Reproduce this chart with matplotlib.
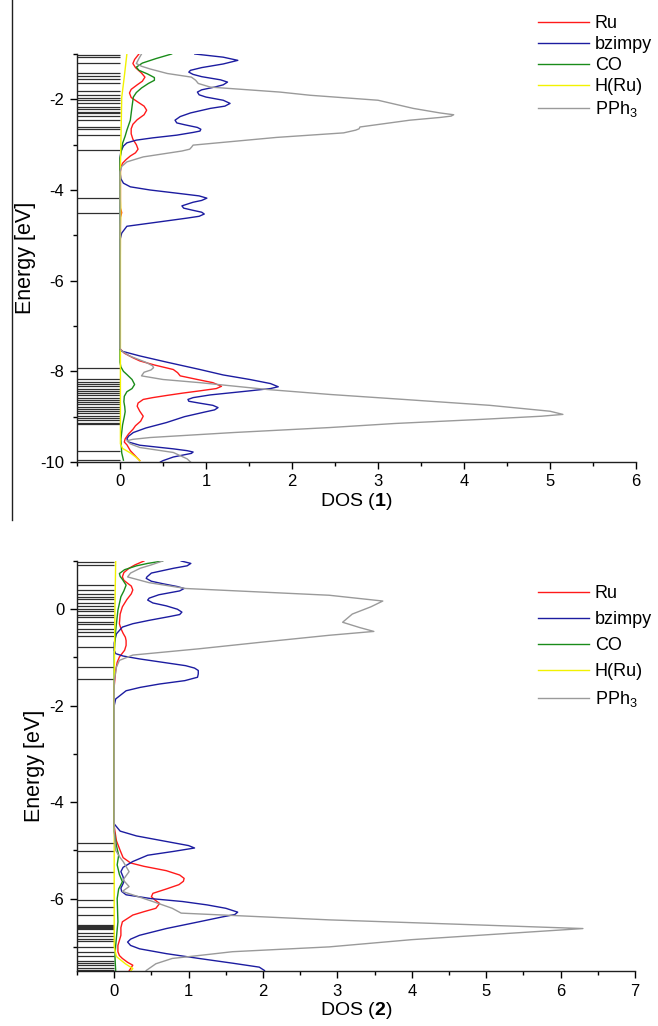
import matplotlib
matplotlib.use("Agg")
import matplotlib.pyplot as plt
from matplotlib.lines import Line2D
from matplotlib.ticker import MultipleLocator

plt.rcParams['font.family'] = ['Liberation Sans', 'DejaVu Sans']
plt.rcParams['mathtext.fontset'] = 'custom'
plt.rcParams['mathtext.rm'] = 'Liberation Sans'
plt.rcParams['mathtext.bf'] = 'Liberation Sans:bold'
plt.rcParams['mathtext.it'] = 'Liberation Sans:italic'
plt.rcParams['axes.unicode_minus'] = False

# ---------------- Panel 1 data (energy [eV], DOS) ----------------
ru1_E = [-1.0, -1.12, -1.21, -1.3, -1.42, -1.51, -1.6, -1.68, -1.78, -1.86, -1.96, -2.05, -2.15, -2.24,
         -2.34, -2.45, -2.55, -2.65, -2.76, -2.88, -3.0, -3.1, -3.18, -3.25, -3.33, -3.41, -3.5, -3.6,
         -4.4, -4.5, -4.6, -7.5, -7.6, -7.7, -7.77, -7.86, -7.96, -8.03, -8.1, -8.18, -8.25, -8.33, -8.38,
         -8.43, -8.48, -8.53, -8.58, -8.62, -8.7, -8.77, -8.88, -8.99, -9.1, -9.2, -9.28, -9.38, -9.49,
         -9.56, -9.62, -9.75, -9.87, -9.97]
ru1_D = [0.22, 0.17, 0.15, 0.18, 0.25, 0.29, 0.26, 0.2, 0.13, 0.11, 0.13, 0.2, 0.28, 0.31,
         0.28, 0.2, 0.15, 0.13, 0.13, 0.15, 0.19, 0.21, 0.18, 0.12, 0.07, 0.03, 0.01, 0.005,
         0.005, 0.02, 0.005, 0.0, 0.05, 0.15, 0.23, 0.4, 0.62, 0.67, 0.70, 0.9, 1.08, 1.18, 1.12,
         0.93, 0.73, 0.55, 0.38, 0.27, 0.21, 0.20, 0.23, 0.27, 0.24, 0.18, 0.15, 0.1, 0.06,
         0.05, 0.08, 0.12, 0.18, 0.23]

bz1_E = [-1.0, -1.07, -1.14, -1.22, -1.3, -1.36, -1.4, -1.45, -1.5, -1.57, -1.62, -1.68, -1.73, -1.79,
         -1.84, -1.9, -1.95, -2.02, -2.09, -2.15, -2.2, -2.3, -2.38, -2.46, -2.52, -2.56, -2.62, -2.66,
         -2.7, -2.73, -2.79, -2.85, -2.9, -2.96, -3.03, -3.15, -3.3, -3.6, -3.75, -3.85, -3.93, -4.0,
         -4.07, -4.13, -4.18, -4.23, -4.27, -4.35, -4.4, -4.44, -4.49, -4.53, -4.58, -4.62, -4.70, -4.80,
         -4.95, -5.1, -7.5, -7.55, -7.66, -7.8, -7.96, -8.08, -8.18, -8.27, -8.34, -8.38, -8.43, -8.52,
         -8.58, -8.62, -8.66, -8.7, -8.75, -8.80, -8.85, -8.9, -9.0, -9.13, -9.25, -9.35, -9.43, -9.49,
         -9.56, -9.63, -9.71, -9.75, -9.78, -9.81, -9.84, -9.89, -9.97, -10.0]
bz1_D = [0.87, 1.2, 1.37, 1.2, 0.95, 0.82, 0.80, 0.85, 0.95, 1.17, 1.25, 1.2, 1.1, 0.95,
         0.90, 0.92, 1.0, 1.2, 1.28, 1.22, 1.05, 0.82, 0.7, 0.64, 0.66, 0.75, 0.9, 0.94,
         0.93, 0.85, 0.66, 0.38, 0.19, 0.08, 0.04, 0.01, 0.0, 0.0, 0.01, 0.04, 0.12, 0.35,
         0.66, 0.92, 1.01, 0.95, 0.85, 0.72, 0.74, 0.83, 0.95, 0.98, 0.92, 0.78, 0.47, 0.08,
         0.02, 0.0, 0.0, 0.01, 0.23, 0.55, 0.93, 1.2, 1.51, 1.75, 1.84, 1.75, 1.51, 1.05,
         0.85, 0.79, 0.8, 0.92, 1.08, 1.14, 1.1, 0.98, 0.75, 0.54, 0.3, 0.155, 0.1, 0.08,
         0.1, 0.23, 0.62, 0.78, 0.85, 0.83, 0.75, 0.62, 0.50, 0.47]

co1_E = [-1.0, -1.1, -1.2, -1.29, -1.36, -1.44, -1.52, -1.58, -1.65, -1.75, -1.85, -1.95, -2.16, -2.46,
         -2.68, -2.81, -2.97, -3.1, -3.3, -7.8, -7.9, -8.0, -8.07, -8.18, -8.29, -8.38, -8.45, -8.55,
         -8.67, -8.78, -8.89, -9.0, -9.18, -9.5, -9.8, -9.96]
co1_D = [0.60, 0.42, 0.26, 0.19, 0.22, 0.32, 0.40, 0.40, 0.33, 0.25, 0.19, 0.155, 0.14, 0.12,
         0.08, 0.06, 0.03, 0.02, 0.0, 0.0, 0.01, 0.04, 0.08, 0.14, 0.17, 0.14, 0.08, 0.05,
         0.045, 0.055, 0.06, 0.05, 0.03, 0.01, 0.02, 0.04]

h1_E = [-1.0, -1.5, -1.96, -2.5, -2.95, -3.5, -4.2, -4.5, -4.8, -9.6, -9.7, -9.80, -9.9, -9.97]
h1_D = [0.08, 0.05, 0.02, 0.015, 0.01, 0.005, 0.005, 0.01, 0.005, 0.005, 0.03, 0.12, 0.19, 0.23]

pp1_E = [-1.0, -1.1, -1.21, -1.27, -1.33, -1.43, -1.51, -1.58, -1.65, -1.73, -1.84, -1.91, -2.02, -2.2,
         -2.3, -2.34, -2.37, -2.40, -2.46, -2.61, -2.65, -2.68, -2.74, -2.84, -3.01, -3.06, -3.1, -3.14,
         -3.27, -3.38, -3.48, -3.6, -7.5, -7.55, -7.66, -7.8, -7.88, -7.92, -7.97, -8.02, -8.10, -8.18,
         -8.25, -8.40, -8.51, -8.62, -8.75, -8.88, -8.95, -8.99, -9.06, -9.15, -9.24, -9.35, -9.46,
         -9.5, -9.53, -9.6, -9.68, -9.79, -9.93, -10.0]
pp1_D = [0.25, 0.22, 0.19, 0.25, 0.35, 0.55, 0.83, 0.88, 0.91, 1.05, 1.86, 2.21, 3.0, 3.41,
         3.72, 3.88, 3.85, 3.72, 3.37, 2.79, 2.78, 2.74, 2.6, 1.82, 0.85, 0.83, 0.81, 0.72,
         0.27, 0.08, 0.02, 0.0, 0.0, 0.02, 0.11, 0.3, 0.38, 0.39, 0.36, 0.28, 0.25, 0.5,
         0.93, 1.71, 2.44, 3.3, 4.3, 5.0, 5.15, 4.9, 4.2, 3.2, 2.44, 1.32, 0.35,
         0.15, 0.08, 0.12, 0.23, 0.62, 0.78, 0.82]

levels1 = [-1.02, -1.07, -1.19, -1.43, -1.49, -1.55, -1.65, -1.82, -1.91, -1.97, -2.02, -2.08, -2.17, -2.22,
           -2.28, -2.31, -2.37, -2.45, -2.62, -2.66, -2.78, -3.11, -4.18, -4.51,
           -7.92, -8.18, -8.23, -8.28, -8.33, -8.38, -8.43, -8.48, -8.53, -8.58, -8.63, -8.68, -8.73,
           -8.78, -8.83, -8.88, -8.93, -8.98, -9.03, -9.08, -9.13, -9.17, -9.76, -9.95]

# ---------------- Panel 2 data ----------------
ru2_E = [1.0, 0.92, 0.85, 0.76, 0.67, 0.6, 0.55, 0.48, 0.40, 0.32, 0.2, 0.05, -0.1, -0.30, -0.4, -0.5,
         -0.58, -0.65, -0.75, -0.85, -0.99, -1.1, -1.27, -1.6, -4.5, -4.8, -5.0, -5.15, -5.26, -5.33,
         -5.42, -5.51, -5.58, -5.64, -5.71, -5.80, -5.89, -5.96, -6.03, -6.10, -6.20, -6.27, -6.34,
         -6.48, -6.6, -6.76, -6.97, -7.10, -7.18, -7.24, -7.32, -7.38, -7.45, -7.5]
ru2_D = [0.40, 0.28, 0.2, 0.13, 0.11, 0.13, 0.17, 0.23, 0.25, 0.23, 0.17, 0.11, 0.08, 0.07, 0.09, 0.12,
         0.15, 0.16, 0.16, 0.14, 0.07, 0.04, 0.02, 0.0, 0.0, 0.03, 0.08, 0.12, 0.22, 0.4,
         0.7, 0.88, 0.94, 0.93, 0.87, 0.7, 0.52, 0.50, 0.55, 0.61, 0.56, 0.4, 0.25,
         0.11, 0.09, 0.09, 0.05, 0.05, 0.07, 0.11, 0.18, 0.25, 0.22, 0.20]

bz2_E = [1.0, 0.95, 0.9, 0.85, 0.75, 0.67, 0.64, 0.58, 0.53, 0.47, 0.43, 0.38, 0.3, 0.23, 0.19, 0.13,
         0.07, 0.0, -0.06, -0.11, -0.15, -0.23, -0.3, -0.37, -0.51, -0.7, -0.85, -0.92, -0.97, -1.03,
         -1.1, -1.17, -1.22, -1.27, -1.34, -1.41, -1.48, -1.55, -1.62, -1.69, -1.86, -2.0, -4.45, -4.6,
         -4.7, -4.8, -4.9, -4.95, -5.02, -5.1, -5.23, -5.35, -5.44, -5.55, -5.65, -5.72, -5.78, -5.85,
         -5.92, -6.0, -6.06, -6.13, -6.20, -6.28, -6.33, -6.38, -6.48, -6.62, -6.76, -6.84, -6.90,
         -6.97, -7.04, -7.14, -7.24, -7.34, -7.42, -7.49]
bz2_D = [0.90, 1.03, 0.98, 0.8, 0.5, 0.44, 0.43, 0.5, 0.65, 0.85, 0.94, 0.88, 0.6, 0.47, 0.45, 0.52,
         0.7, 0.85, 0.91, 0.88, 0.75, 0.47, 0.25, 0.11, 0.03, 0.0, 0.0, 0.02, 0.12, 0.34,
         0.65, 0.96, 1.08, 1.13, 1.13, 1.12, 0.95, 0.61, 0.35, 0.16, 0.02, 0.0, 0.0, 0.08,
         0.3, 0.65, 1.0, 1.08, 0.8, 0.45, 0.25, 0.12, 0.09, 0.12, 0.13, 0.11, 0.09, 0.1,
         0.16, 0.5, 0.92, 1.25, 1.50, 1.66, 1.62, 1.45, 1.14, 0.7, 0.34, 0.22, 0.18,
         0.22, 0.34, 0.7, 1.14, 1.6, 1.95, 2.02]

co2_E = [1.0, 0.95, 0.9, 0.82, 0.74, 0.68, 0.62, 0.50, 0.38, 0.26, -0.02, -0.44, -0.9, -4.6, -4.9, -5.1,
         -5.3, -5.5, -5.65, -5.8, -6.0, -6.48, -6.97, -7.2, -7.5]
co2_D = [0.65, 0.45, 0.3, 0.14, 0.07, 0.08, 0.11, 0.16, 0.13, 0.09, 0.05, 0.02, 0.0, 0.0, 0.03, 0.06,
         0.04, 0.07, 0.11, 0.06, 0.04, 0.05, 0.02, 0.01, 0.02]

h2_E = [1.0, 0.5, 0.0, -0.8, -1.6, -7.0, -7.2, -7.35, -7.45, -7.5]
h2_D = [0.02, 0.015, 0.01, 0.005, 0.0, 0.0, 0.03, 0.15, 0.25, 0.22]

pp2_E = [1.0, 0.92, 0.85, 0.75, 0.67, 0.62, 0.55, 0.43, 0.29, 0.17, 0.05, -0.1, -0.27, -0.38, -0.46,
         -0.54, -0.68, -0.82, -0.95, -1.06, -1.2, -1.5, -4.6, -5.0, -5.15, -5.23, -5.44, -5.61, -5.75,
         -5.85, -6.06, -6.20, -6.30, -6.44, -6.54, -6.62, -6.7, -6.85, -7.0, -7.10, -7.21, -7.24, -7.35,
         -7.49]
pp2_D = [0.65, 0.5, 0.35, 0.22, 0.18, 0.3, 0.47, 0.96, 2.89, 3.61, 3.45, 3.2, 3.07, 3.3, 3.49,
         2.89, 2.0, 1.14, 0.25, 0.07, 0.03, 0.0, 0.0, 0.02, 0.08, 0.12, 0.2, 0.12, 0.2,
         0.11, 0.52, 0.78, 0.90, 2.89, 4.8, 6.3, 5.5, 4.0, 2.89, 1.59, 0.96, 0.78, 0.56,
         0.43]

levels2 = [0.97, 0.92, 0.51, 0.40, 0.31, 0.26, 0.21, 0.12, 0.06, 0.00, -0.04, -0.12, -0.17, -0.26, -0.31,
           -0.42, -0.47, -0.55, -0.78, -1.20, -1.44,
           -4.85, -5.02, -5.44, -5.68, -6.03, -6.17, -6.34, -6.55, -6.57, -6.59, -6.61, -6.63, -6.72,
           -6.77, -6.83, -6.88, -7.0, -7.1, -7.19, -7.29, -7.33, -7.38, -7.44, -7.48]

labels = ['Ru', 'bzimpy', 'CO', 'H(Ru)', r'PPh$_3$']
colors = ['#ff1a1a', '#1c1ca0', '#1a8c1a', '#f2f200', '#9a9a9a']

W, H = 658, 1026
fig = plt.figure(figsize=(W / 100, H / 100), dpi=100)

def make_panel(rect, series, levels, xmax, ylim, ymajor, xlabel, leg_top, leg_spacing):
    ax = fig.add_axes(rect)
    ax.hlines(levels, -0.5, 0, color='#303030', lw=0.9, zorder=1)
    for (E, D), c, lab in zip(series, colors, labels):
        ax.plot(D, E, color=c, lw=1.0, label=lab, zorder=2)
    ax.set_xlim(-0.5, xmax)
    ax.set_ylim(*ylim)
    ax.xaxis.set_major_locator(MultipleLocator(1))
    ax.xaxis.set_minor_locator(MultipleLocator(0.5))
    ax.yaxis.set_major_locator(MultipleLocator(ymajor))
    ax.yaxis.set_minor_locator(MultipleLocator(ymajor / 2))
    for s in ['top', 'right']:
        ax.spines[s].set_visible(False)
    for s in ['left', 'bottom']:
        ax.spines[s].set_linewidth(1.0)
        ax.spines[s].set_color('#202020')
    ax.tick_params(which='major', direction='out', length=5, width=1.0, labelsize=12, pad=4)
    ax.tick_params(which='minor', direction='out', length=3, width=1.0)
    ax.set_xlabel(xlabel, fontsize=14, labelpad=1)
    ax.set_ylabel('Energy [eV]', fontsize=15.5, labelpad=3)
    ax.legend(loc='upper left', bbox_to_anchor=(538 / W, 1 - leg_top / H),
              bbox_transform=fig.transFigure, frameon=False, fontsize=13,
              handlelength=2.8, handletextpad=0.35, borderpad=0, borderaxespad=0,
              labelspacing=leg_spacing)
    return ax

s1 = [(ru1_E, ru1_D), (bz1_E, bz1_D), (co1_E, co1_D), (h1_E, h1_D), (pp1_E, pp1_D)]
s2 = [(ru2_E, ru2_D), (bz2_E, bz2_D), (co2_E, co2_D), (h2_E, h2_D), (pp2_E, pp2_D)]

ax1 = make_panel([77 / W, 1 - 462 / H, 559 / W, 408 / H], s1, levels1, 6, (-10, -1), 2,
                 r'DOS ($\mathbf{1}$)', 15, 0.22)
ax2 = make_panel([77 / W, 1 - 971 / H, 558 / W, 410 / H], s2, levels2, 7, (-7.5, 1), 2,
                 r'DOS ($\mathbf{2}$)', 585, 0.5)

# thin vertical border line at far left of the top panel
fig.add_artist(Line2D([11.5 / W, 11.5 / W], [1.0, 1 - 520 / H], transform=fig.transFigure,
                      color='#202020', lw=1.0))

fig.savefig('out.png', dpi=100)
